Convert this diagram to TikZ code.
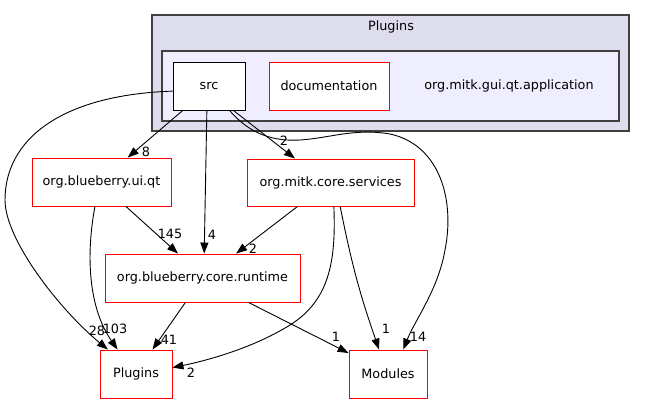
\documentclass[tikz,border=0pt]{standalone}
\usepackage{fontspec}
\setmainfont{DejaVu Sans}
\usetikzlibrary{arrows.meta}

\definecolor{outerfill}{HTML}{DDDDEE}
\definecolor{innerfill}{HTML}{EEEEFF}
\definecolor{clustline}{HTML}{404040}

\begin{document}
\begin{tikzpicture}[x=1pt,y=-1pt,->,>={Triangle[length=11pt,width=8pt]},line width=0.9pt,font=\fontsize{12.8}{15}\selectfont]
		\tikzstyle{clust}  = [rectangle,draw=clustline,line width=1.2pt,inner sep=0pt]
		\tikzstyle{dirbox} = [rectangle,draw=black,fill=white,inner sep=0pt,minimum width=72pt,minimum height=48pt]
		\tikzstyle{reddir} = [rectangle,draw=red,fill=white,inner sep=0pt,minimum height=48pt]
		\tikzstyle{lbl}    = [inner sep=0pt]
		
		\useasboundingbox (0,0) rectangle (645,404);
		
		\node[clust,fill=outerfill,minimum width=477pt,minimum height=116pt] (plugcl) at (390.5,73) {};
		\node (plugtitle) at (391,27) {Plugins};
		\node[clust,fill=innerfill,minimum width=457pt,minimum height=70pt] (appcl) at (390.5,86) {};
		\node (apptitle) at (509,86) {org.mitk.gui.qt.application};
		
		\node[dirbox] (src)  at (209,86)  {src};
		\node[reddir,minimum width=120pt] (doc) at (329,86) {documentation};
		\node[reddir,minimum width=139pt] (uiqt) at (101.5,182) {org.blueberry.ui.qt};
		\node[reddir,minimum width=167pt,minimum height=47pt] (services) at (330.5,182.5) {org.mitk.core.services};
		\node[reddir,minimum width=195pt] (runtime) at (202.5,278) {org.blueberry.core.runtime};
		\node[reddir,minimum width=72pt] (plugins) at (136,374) {Plugins};
		\node[reddir,minimum width=78pt] (modules) at (388,374) {Modules};
		
		% edges out of src
		\path (src.223) edge (uiqt.43);
		\path (src.265) edge (runtime.86);
		\path (src.315) edge (services.146);
		\draw (src.188) .. controls (60,95) and (5,140) .. (5,200)
			.. controls (5,240) and (60,310) .. (plugins.139);
		\draw (src.310) .. controls (245,128) and (265,142) .. (300,140)
			.. controls (330,138) and (355,128) .. (390,134)
			.. controls (440,145) and (455,200) .. (445,250)
			.. controls (438,290) and (415,320) .. (modules.58);
		
		% edges out of org.blueberry.ui.qt
		\path (uiqt.315) edge (runtime.135);
		\draw (uiqt.255) .. controls (85,260) and (90,310) .. (plugins.127);
		
		% edges out of org.mitk.core.services
		\path (services.216) edge (runtime.36);
		\draw (services.278) .. controls (336,260) and (330,300) .. (290,325)
			.. controls (250,350) and (200,362) .. (plugins.10);
		\path (services.292) edge[bend right=4] (modules.110);
		
		% edges out of org.blueberry.core.runtime
		\path (runtime.235) edge (plugins.56);
		\path (runtime.332) edge (modules.152);
		
		% edge labels
		\node[lbl] (l8)   at (146,152) {8};
		\node[lbl] (l4)   at (212,235) {4};
		\node[lbl] (l2a)  at (284,141) {2};
		\node[lbl] (l28)  at (97,331)  {28};
		\node[lbl] (l14)  at (418,337) {14};
		\node[lbl] (l145) at (170,234) {145};
		\node[lbl] (l103) at (115,329) {103};
		\node[lbl] (l2b)  at (253,249) {2};
		\node[lbl] (l2c)  at (191,373) {2};
		\node[lbl] (l1a)  at (386,329) {1};
		\node[lbl] (l41)  at (169,340) {41};
		\node[lbl] (l1b)  at (336,337) {1};
	\end{tikzpicture}
\end{document}
